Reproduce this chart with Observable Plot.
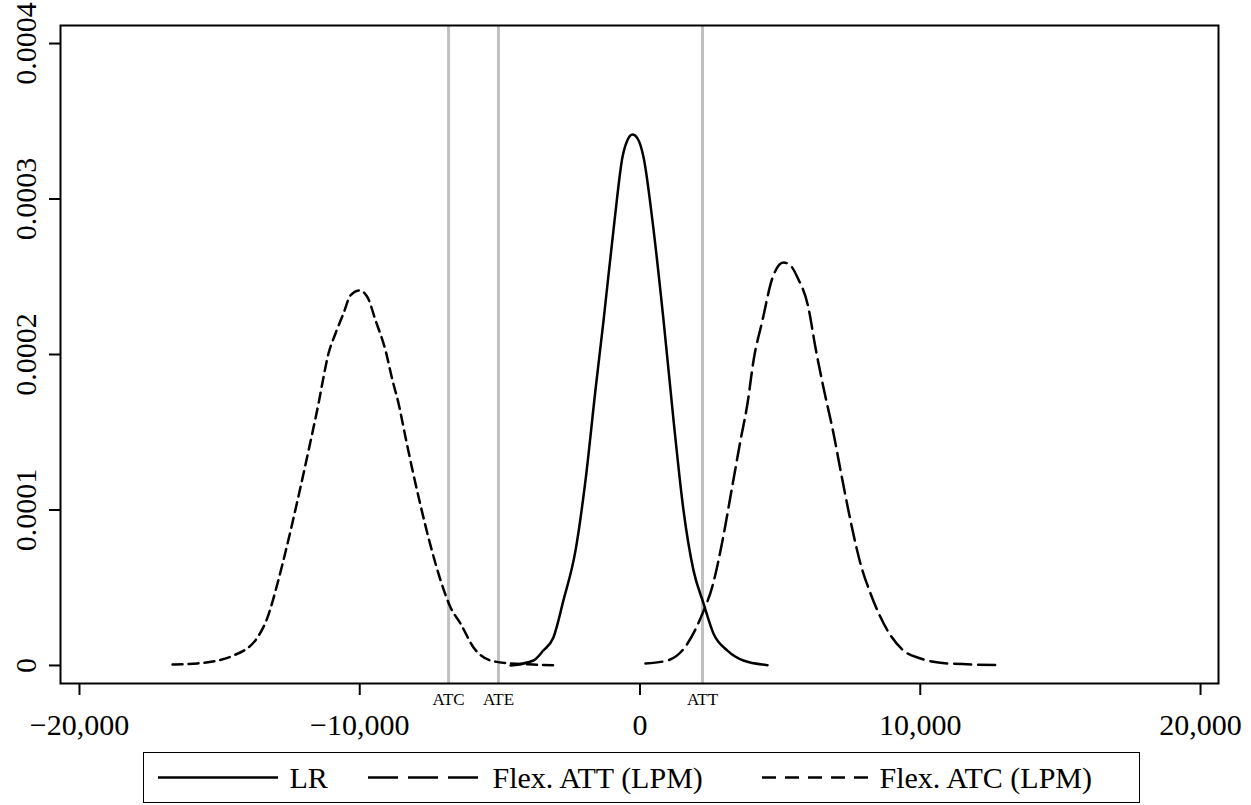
<!DOCTYPE html>
<html><head><meta charset="utf-8">
<script src="https://cdn.jsdelivr.net/npm/d3@7"></script>
<script src="https://cdn.jsdelivr.net/npm/@observablehq/plot@0.6"></script>
<style>
body{margin:0;background:#fff;font-family:"Liberation Serif","Times New Roman","DejaVu Serif",serif;}
#wrap{position:relative;width:1251px;height:805px;overflow:hidden;}
#chart{position:absolute;left:0;top:0;}
#legend{position:absolute;left:143px;top:752px;width:995px;height:49px;border:1.5px solid #000;box-sizing:content-box;}
.item{position:absolute;top:0;height:49px;display:flex;align-items:center;font-size:30px;color:#000;white-space:nowrap;}
svg text{font-family:"Liberation Serif","Times New Roman","DejaVu Serif",serif !important;}
</style></head><body>
<div id="wrap"><div id="chart"></div><div id="legend"></div></div>
<script>
// LR (solid)
const lrX = [-4620,-3800,-3450,-3090,-2730,-2300,-1945,-1590,-1300,-910,-625,-445,-270,-90,125,445,840,1195,1550,1910,2265,2620,3120,3690,4550];
const lrY = [0,3.2e-6,9.6e-6,1.8e-5,4.2e-5,7.4e-5,1.19e-4,1.77e-4,2.22e-4,2.86e-4,3.27e-4,3.38e-4,3.415e-4,3.39e-4,3.27e-4,2.86e-4,2.22e-4,1.58e-4,1.0e-4,6.1e-5,4.0e-5,2.06e-5,9.6e-6,3.2e-6,0.2e-6];
// Flex. ATT (LPM) (long dash)
const attX = [195,980,1695,2230,2590,2945,3265,3585,3835,4050,4370,4730,5120,5370,5620,6010,6260,6545,6905,7190,7510,7865,8225,8830,9400,10010,10970,12755];
const attY = [1.3e-6,3.2e-6,1.41e-5,3.34e-5,5.14e-5,8.04e-5,1.125e-4,1.447e-4,1.685e-4,1.96e-4,2.22e-4,2.495e-4,2.592e-4,2.572e-4,2.495e-4,2.30e-4,2.045e-4,1.788e-4,1.492e-4,1.222e-4,9.32e-5,6.56e-5,4.63e-5,2.25e-5,9.6e-6,4.5e-6,1.3e-6,0.3e-6];
// Flex. ATC (LPM) (short dash)
const atcX = [-16680,-15790,-14505,-13650,-13290,-12935,-12575,-12220,-11865,-11650,-11470,-11295,-11115,-10865,-10580,-10330,-10010,-9720,-9435,-9080,-8830,-8615,-8365,-8115,-7830,-7475,-7115,-6760,-6405,-5940,-5335,-4620,-3800,-2945];
const atcY = [0.6e-6,1.3e-6,6.4e-6,1.8e-5,3.09e-5,5.27e-5,7.85e-5,1.061e-4,1.35e-4,1.53e-4,1.685e-4,1.852e-4,2.006e-4,2.135e-4,2.264e-4,2.38e-4,2.412e-4,2.367e-4,2.219e-4,2.026e-4,1.833e-4,1.685e-4,1.466e-4,1.254e-4,1.029e-4,7.72e-5,5.47e-5,3.73e-5,2.7e-5,1.16e-5,3.2e-6,1.3e-6,0.6e-6,0];
// reference lines
const refLabels = ["ATC","ATE","ATT"];
const refValues = [-6830,-5050,2230];
// ticks
const xTicks = [-20000,-10000,0,10000,20000];
const yTicks = [0,0.0001,0.0002,0.0003,0.0004];
const yTickLabels = ["0","0.0001","0.0002","0.0003","0.0004"];
// legend
const seriesNames = ["LR","Flex. ATT (LPM)","Flex. ATC (LPM)"];

const toRows = (xs, ys) => xs.map((x, i) => ({x, y: ys[i]}));
const lr = toRows(lrX, lrY), att = toRows(attX, attY), atc = toRows(atcX, atcY);
const refs = refValues.map((v, i) => ({v, label: refLabels[i]}));
const yt = yTicks.map((v, i) => ({v, label: yTickLabels[i]}));

const FONT = "'Liberation Serif', 'Times New Roman', 'DejaVu Serif', serif";
const H = 745;
const chart = Plot.plot({
  width: 1251, height: H,
  marginLeft: 60, marginRight: 33, marginTop: 25, marginBottom: H - 683,
  style: {fontFamily: FONT, background: "#fff", overflow: "visible"},
  x: {domain: [-20677, 20641]},
  y: {domain: [-1.16e-5, 4.116e-4]},
  marks: [
    Plot.ruleX(refs, {x: "v", stroke: "#c0c0c0", strokeWidth: 3}),
    Plot.text(refs, {x: "v", text: "label", frameAnchor: "bottom", dy: 16, fontSize: 17, fill: "#000", lineAnchor: "middle"}),
    Plot.line(atc, {x: "x", y: "y", stroke: "#000", strokeWidth: 2.5, strokeDasharray: "10,6", curve: "monotone-x"}),
    Plot.line(att, {x: "x", y: "y", stroke: "#000", strokeWidth: 2.5, strokeDasharray: "17,7", curve: "monotone-x"}),
    Plot.line(lr, {x: "x", y: "y", stroke: "#000", strokeWidth: 2.5, curve: "monotone-x"}),
    Plot.frame({stroke: "#000", strokeWidth: 2}),
    Plot.axisX({ticks: xTicks, tickSize: 12, tickPadding: 18, tickFormat: d3.format(","), fontSize: 30, label: null, stroke: "#000", strokeWidth: 2, color: "#000"}),
    Plot.axisY({ticks: yTicks, tickSize: 11, text: null, label: null, stroke: "#000", strokeWidth: 2}),
    Plot.text(yt, {y: "v", text: "label", frameAnchor: "left", dx: -25, rotate: -90, textAnchor: "middle", lineAnchor: "bottom", fontSize: 30, fill: "#000"})
  ]
});
document.getElementById("chart").appendChild(chart);

// legend (HTML below the SVG)
const legend = document.getElementById("legend");
const items = [
  {name: seriesNames[0], x1: 158, x2: 278, tx: 290, dash: null},
  {name: seriesNames[1], x1: 368, x2: 478, tx: 493, dash: "30,10"},
  {name: seriesNames[2], x1: 762, x2: 868, tx: 880, dash: "14,9"}
];
const ns = "http://www.w3.org/2000/svg";
for (const it of items) {
  const sv = document.createElementNS(ns, "svg");
  sv.setAttribute("width", it.x2 - it.x1);
  sv.setAttribute("height", 49);
  sv.style.position = "absolute";
  sv.style.left = (it.x1 - 144.5) + "px";
  sv.style.top = "0px";
  const ln = document.createElementNS(ns, "line");
  ln.setAttribute("x1", 0); ln.setAttribute("x2", it.x2 - it.x1);
  ln.setAttribute("y1", 24.5); ln.setAttribute("y2", 24.5);
  ln.setAttribute("stroke", "#000"); ln.setAttribute("stroke-width", 2.5);
  if (it.dash) ln.setAttribute("stroke-dasharray", it.dash);
  sv.appendChild(ln);
  legend.appendChild(sv);
  const t = document.createElement("div");
  t.className = "item";
  t.style.left = (it.tx - 144.5) + "px";
  t.textContent = it.name;
  legend.appendChild(t);
}
</script>
</body></html>
